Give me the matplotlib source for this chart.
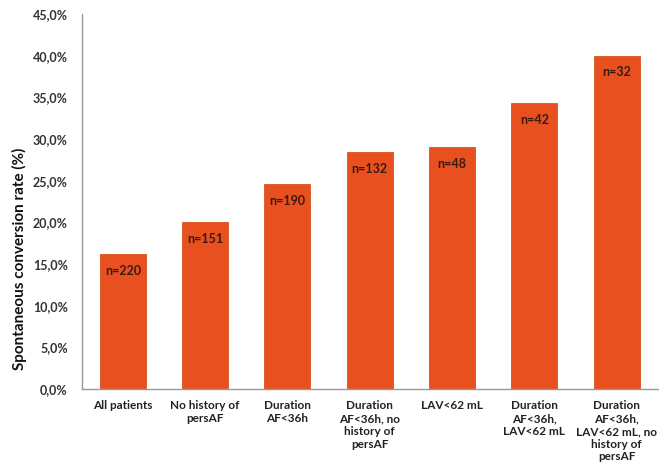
import matplotlib
matplotlib.use("Agg")
import matplotlib.pyplot as plt
from matplotlib.ticker import FuncFormatter

plt.rcParams['font.family'] = ['Lato', 'DejaVu Sans']

categories = ["All patients", "No history of\npersAF", "Duration\nAF<36h",
              "Duration\nAF<36h, no\nhistory of\npersAF", "LAV<62 mL",
              "Duration\nAF<36h,\nLAV<62 mL", "Duration\nAF<36h,\nLAV<62 mL, no\nhistory of\npersAF"]
rates = [16.2, 20.0, 24.6, 28.4, 29.0, 34.3, 40.0]
counts = ["n=220", "n=151", "n=190", "n=132", "n=48", "n=42", "n=32"]

fig = plt.figure(figsize=(6.59, 4.70), dpi=100)
ax = fig.add_axes([0.124, 0.172, 0.874, 0.798])

x = range(len(categories))
ax.bar(x, rates, width=0.56, color="#E8501F", edgecolor="#D9541E", linewidth=0.6)

for i, (r, c) in enumerate(zip(rates, counts)):
    ax.text(i, r - 2.0, c, ha="center", va="center", fontsize=9,
            fontweight="bold", color="#3a1a10")

ax.set_xlim(-0.5, len(categories) - 0.5)
ax.set_ylim(0, 45)
ax.set_yticks(range(0, 46, 5))
ax.yaxis.set_major_formatter(FuncFormatter(lambda v, p: f"{v:.1f}%".replace(".", ",")))
ax.set_xticks(list(x))
ax.set_xticklabels(categories, fontsize=8.5, fontweight="bold", color="#222222",
                   linespacing=1.2, va="top")
for lab in ax.get_yticklabels():
    lab.set_fontsize(9)
    lab.set_fontweight("bold")
    lab.set_color("#333333")
ax.tick_params(axis="both", length=0, pad=8)
ax.tick_params(axis="y", pad=10)

ax.set_ylabel("Spontaneous conversion rate (%)", fontsize=11, fontweight="bold",
              color="#111111")
ax.yaxis.set_label_coords(-0.095, 0.347)

for s in ["top", "right"]:
    ax.spines[s].set_visible(False)
for s in ["left", "bottom"]:
    ax.spines[s].set_color("#999999")
    ax.spines[s].set_linewidth(1)

fig.savefig("out.png", dpi=100)
